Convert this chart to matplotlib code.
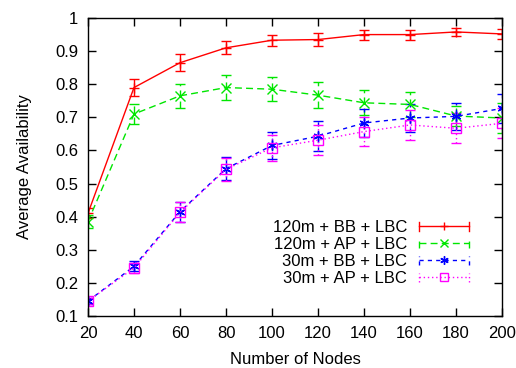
import matplotlib
matplotlib.use("Agg")
import matplotlib.pyplot as plt
from matplotlib.legend_handler import HandlerBase
from matplotlib.lines import Line2D

plt.rcParams["font.family"] = ["Liberation Sans", "DejaVu Sans"]

nodes = [20, 40, 60, 80, 100, 120, 140, 160, 180, 200]

bb120 = [0.41, 0.79, 0.865, 0.91, 0.933, 0.935, 0.95, 0.95, 0.958, 0.952]
bb120_err = [0.015, 0.025, 0.025, 0.02, 0.017, 0.02, 0.015, 0.015, 0.012, 0.015]

ap120 = [0.385, 0.71, 0.765, 0.79, 0.785, 0.767, 0.744, 0.739, 0.704, 0.698]
ap120_err = [0.02, 0.03, 0.037, 0.037, 0.037, 0.04, 0.038, 0.038, 0.03, 0.045]

bb30 = [0.145, 0.25, 0.415, 0.545, 0.615, 0.643, 0.683, 0.698, 0.703, 0.727]
bb30_err = [0.008, 0.015, 0.03, 0.035, 0.04, 0.045, 0.042, 0.042, 0.04, 0.045]

ap30 = [0.145, 0.245, 0.413, 0.543, 0.608, 0.631, 0.657, 0.677, 0.667, 0.682]
ap30_err = [0.008, 0.015, 0.03, 0.035, 0.04, 0.045, 0.045, 0.045, 0.045, 0.045]

labels = ["120m + BB + LBC", "120m + AP + LBC", "30m + BB + LBC", "30m + AP + LBC"]
colors = ["#ff0000", "#00e600", "#0000ff", "#ff00ff"]
dashes = [None, (5, 3), (3, 3), (1, 2)]
markers = ["+", "x", (6, 2, 0), "s"]


class GnuplotHandler(HandlerBase):
    # gnuplot style key: line with end caps and marker in the middle
    def create_artists(self, legend, orig, xd, yd, width, height, fontsize, trans):
        y = height / 2 - yd
        x0, x1 = -xd, width - xd
        segs = [([x0, x1], [y, y]), ([x0, x0], [y - 3.5, y + 3.5]),
                ([x1, x1], [y - 3.5, y + 3.5])]
        arts = []
        for xs, ys in segs:
            ln = Line2D(xs, ys)
            ln.update_from(orig)
            ln.set_marker("")
            arts.append(ln)
        mk = Line2D([(x0 + x1) / 2], [y])
        mk.update_from(orig)
        mk.set_linestyle("none")
        arts.append(mk)
        for a in arts:
            a.set_transform(trans)
        return arts


fig = plt.figure(figsize=(5.16, 3.68), dpi=100)
ax = fig.add_axes([0.1705, 0.1413, 0.8025, 0.8097])

series = [(bb120, bb120_err), (ap120, ap120_err), (bb30, bb30_err), (ap30, ap30_err)]
handles = []
for (vals, errs), lab, col, dsh, mk in zip(series, labels, colors, dashes, markers):
    ls = "-" if dsh is None else (0, dsh)
    eb = ax.errorbar(nodes, vals, yerr=errs, color=col, lw=1, elinewidth=1,
                     capsize=3.5, capthick=1, marker=mk, markersize=7,
                     markerfacecolor="none", markeredgecolor=col, linestyle=ls)
    eb[2][0].set_linestyle(ls)
    handles.append(Line2D([], [], color=col, lw=1, linestyle=ls, marker=mk,
                          markersize=6, markerfacecolor="none", markeredgecolor=col))

ax.set_xlim(20, 200)
ax.set_ylim(0.1, 1.0)
ax.set_xticks(nodes)
ax.set_yticks([0.1, 0.2, 0.3, 0.4, 0.5, 0.6, 0.7, 0.8, 0.9, 1.0])
ax.set_yticklabels(["0.1", "0.2", "0.3", "0.4", "0.5", "0.6", "0.7", "0.8", "0.9", "1"])
ax.tick_params(direction="in", top=True, right=True, length=6, width=1,
               labelsize=12, pad=7)
for s in ax.spines.values():
    s.set_linewidth(1)

ax.set_xlabel("Number of Nodes", fontsize=12, labelpad=8)
ax.set_ylabel("Average Availability", fontsize=12, labelpad=17)

ax.legend(handles, labels, loc="lower right", bbox_to_anchor=(0.92, 0.1),
          markerfirst=False, frameon=False, fontsize=12, handlelength=3.0,
          handletextpad=0.7, labelspacing=0.12, borderaxespad=0, borderpad=0,
          handler_map={Line2D: GnuplotHandler()})

fig.savefig("out.png", dpi=100)
